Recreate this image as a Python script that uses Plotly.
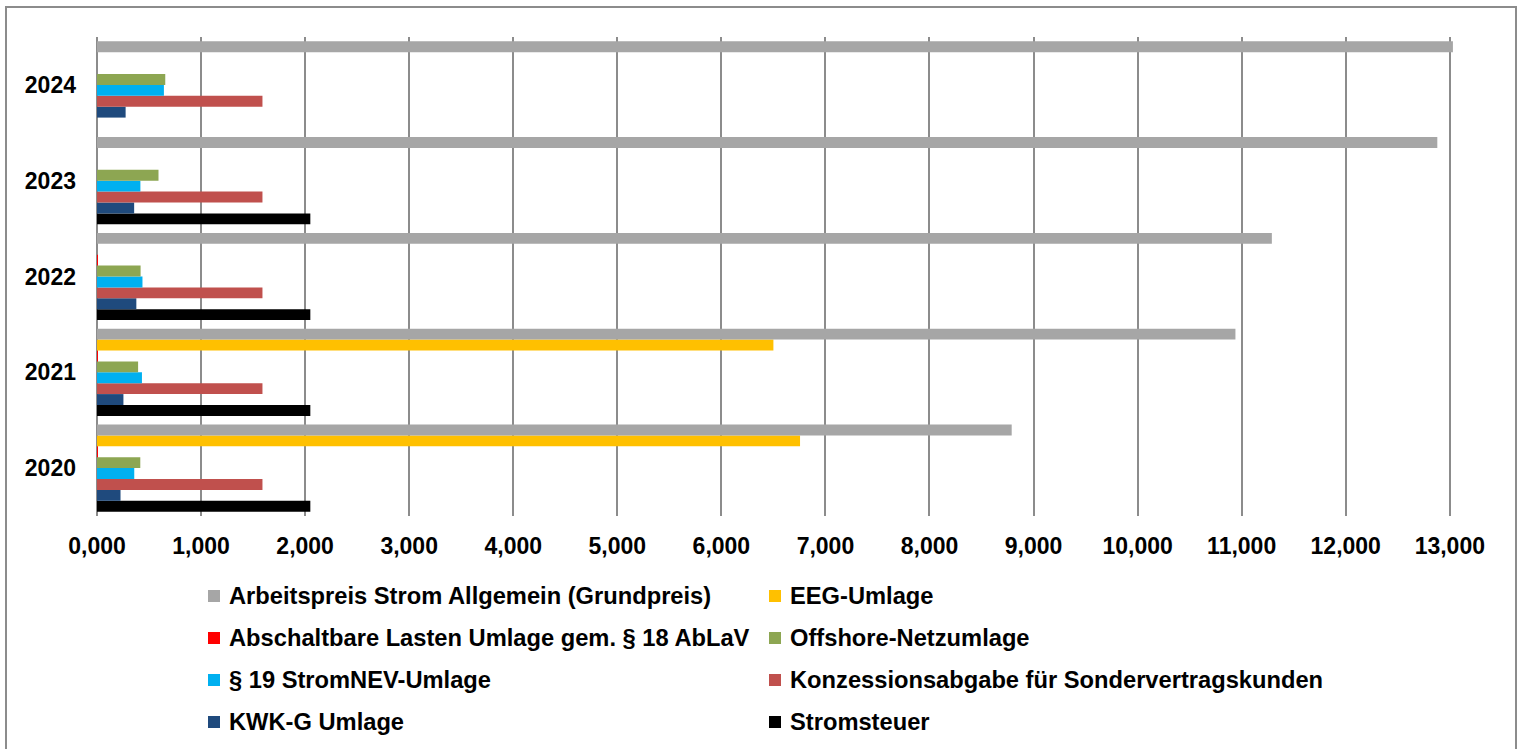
import plotly.graph_objects as go

years = ["2020", "2021", "2022", "2023", "2024"]

series_names = [
    "Arbeitspreis Strom Allgemein (Grundpreis)",
    "EEG-Umlage",
    "Abschaltbare Lasten Umlage gem. § 18 AbLaV",
    "Offshore-Netzumlage",
    "§ 19 StromNEV-Umlage",
    "Konzessionsabgabe für Sondervertragskunden",
    "KWK-G Umlage",
    "Stromsteuer",
]
series_colors = ["#A6A6A6", "#FFC000", "#FF0000", "#8DA652",
                 "#00B0F0", "#C0504D", "#1F4A7D", "#000000"]

arbeitspreis = [8.79, 10.94, 11.29, 12.88, 13.03]
eeg_umlage = [6.756, 6.500, 0.0, 0.0, 0.0]
abschaltbare = [0.007, 0.009, 0.003, 0.0, 0.0]
offshore = [0.416, 0.395, 0.419, 0.591, 0.656]
stromnev19 = [0.358, 0.432, 0.437, 0.417, 0.643]
konzession = [1.59, 1.59, 1.59, 1.59, 1.59]
kwk = [0.226, 0.254, 0.378, 0.357, 0.275]
stromsteuer = [2.05, 2.05, 2.05, 2.05, None]

series_values = [arbeitspreis, eeg_umlage, abschaltbare, offshore,
                 stromnev19, konzession, kwk, stromsteuer]

W, H = 1520, 749
ML, MR, MT, MB = 97, 65, 37, 233
PW, PH = W - ML - MR, H - MT - MB


def px_x(x):
    return (x - ML) / PW


def px_y(y):
    return 1 - (y - MT) / PH


FONT = "Liberation Sans, Arial, sans-serif"

fig = go.Figure()
# first trace is drawn at the bottom of each group
for name, color, vals in reversed(list(zip(series_names, series_colors, series_values))):
    fig.add_trace(go.Bar(
        y=years, x=vals, name=name, orientation="h",
        marker=dict(color=color, line=dict(width=0)),
        showlegend=False,
    ))

shapes = []
annotations = []
# outer border
shapes.append(dict(type="rect", xref="paper", yref="paper",
                   x0=px_x(6), x1=px_x(1516), y0=px_y(770), y1=px_y(7),
                   line=dict(color="#8C8C8C", width=2), fillcolor="rgba(0,0,0,0)",
                   layer="above"))

# manual two-column legend
col_sq_x = [208, 769]
col_txt_x = [227, 788]
row_y = [596, 638, 680, 722]
for i, (name, color) in enumerate(zip(series_names, series_colors)):
    r, c = divmod(i, 2)
    cy = row_y[r]
    sx = col_sq_x[c]
    shapes.append(dict(type="rect", xref="paper", yref="paper",
                       x0=px_x(sx), x1=px_x(sx + 12), y0=px_y(cy + 6), y1=px_y(cy - 6),
                       line=dict(width=0), fillcolor=color))
    annotations.append(dict(xref="paper", yref="paper", x=px_x(col_txt_x[c]), y=px_y(cy),
                            xanchor="left", yanchor="middle", showarrow=False,
                            text=name,
                            font=dict(family=FONT, size=23.7, color="#000000", weight="bold")))

fig.update_layout(
    width=W, height=H,
    margin=dict(l=ML, r=MR, t=MT, b=MB, pad=0),
    paper_bgcolor="white", plot_bgcolor="white",
    barmode="group", bargap=0.09, bargroupgap=0,
    separators=",.",
    shapes=shapes, annotations=annotations,
    xaxis=dict(
        range=[0, 13.05],
        tickvals=list(range(0, 14)),
        tickformat=".3f",
        showgrid=True, gridcolor="#8C8C8C", gridwidth=2,
        zeroline=True, zerolinecolor="#8C8C8C", zerolinewidth=2,
        showline=False, ticks="",
        ticklabelstandoff=14,
        tickfont=dict(family=FONT, size=23, color="#000000", weight="bold"),
        fixedrange=True,
    ),
    yaxis=dict(
        type="category",
        range=[-0.5, 4.5],
        showgrid=False, zeroline=False, showline=False, ticks="",
        ticklabelstandoff=20,
        tickfont=dict(family=FONT, size=23, color="#000000", weight="bold"),
        fixedrange=True,
    ),
)

fig.write_html(
    "out.html",
    config={"displayModeBar": False},
    post_script="document.body.style.margin='0';document.body.style.overflow='hidden';",
)
